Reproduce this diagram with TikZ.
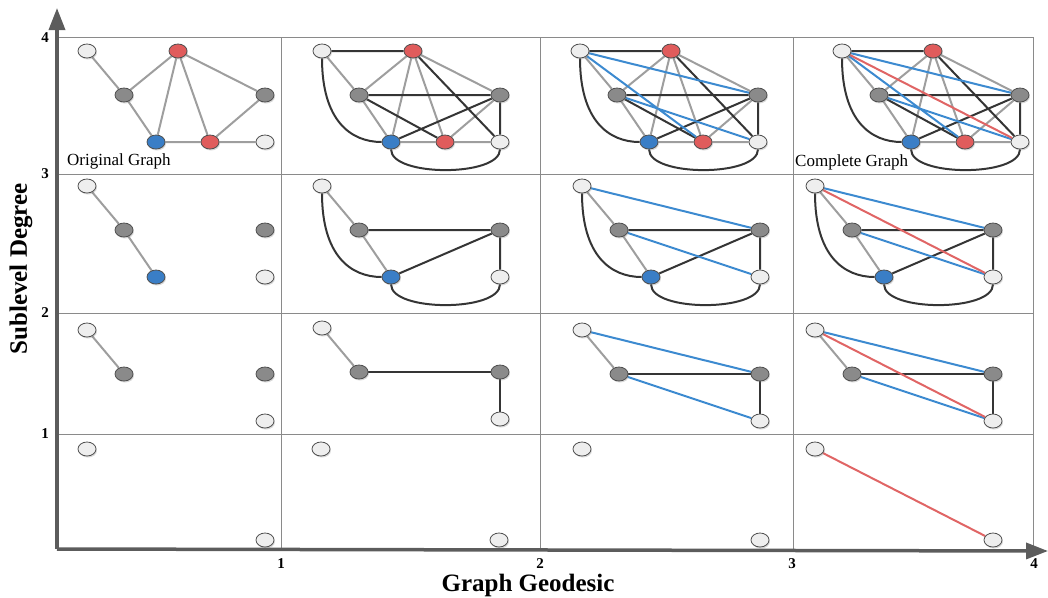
\documentclass[tikz,border=0pt]{standalone}
\usepackage{fontspec}
\setmainfont{Liberation Serif}
\usetikzlibrary{arrows.meta,shapes.geometric,shadows,backgrounds}
\definecolor{nwhite}{HTML}{EEEEEE}
\definecolor{ngray}{HTML}{8A8A8A}
\definecolor{nred}{HTML}{E05C5C}
\definecolor{nblue}{HTML}{3A7EC6}
\definecolor{nborder}{HTML}{505050}
\definecolor{lgray}{HTML}{9E9E9E}
\definecolor{dgray}{HTML}{353535}
\definecolor{eblue}{HTML}{3C8AD0}
\definecolor{ered}{HTML}{E06565}
\definecolor{gridc}{HTML}{8A8A8A}
\definecolor{axisc}{HTML}{5C5C5C}
\tikzset{
  nd/.style={ellipse, draw=nborder, line width=0.8pt, minimum width=18pt, minimum height=14pt, inner sep=0pt,
    drop shadow={opacity=0.3, shadow xshift=1pt, shadow yshift=-1.5pt}},
  wn/.style={nd, fill=nwhite},
  gn/.style={nd, fill=ngray},
  rn/.style={nd, fill=nred},
  bn/.style={nd, fill=nblue},
  le/.style={draw=lgray, line width=2pt},
  de/.style={draw=dgray, line width=2pt},
  be/.style={draw=eblue, line width=2pt},
  ree/.style={draw=ered, line width=2pt},
  gridline/.style={draw=gridc, line width=1pt},
  axisline/.style={draw=axisc, line width=3.5pt, -{Triangle[length=22pt,width=16pt]}},
  ticklab/.style={font=\fontsize{15}{15}\selectfont\bfseries, inner sep=0pt},
  axlab/.style={font=\fontsize{25}{25}\selectfont\bfseries, inner sep=0pt},
  captext/.style={font=\fontsize{17}{17}\selectfont, inner sep=0pt, anchor=base west}
}
% node sets
\newcommand\fullset[1]{%
  \node[wn] (#1a) at (0,0) {};
  \node[rn] (#1b) at (91,0) {};
  \node[gn] (#1c) at (37,44) {};
  \node[gn] (#1d) at (178,44) {};
  \node[bn] (#1e) at (69,91) {};
  \node[rn] (#1f) at (123,91) {};
  \node[wn] (#1g) at (178,91) {};}
\newcommand\fiveset[1]{%
  \node[wn] (#1a) at (0,0) {};
  \node[gn] (#1c) at (37,44) {};
  \node[gn] (#1d) at (178,44) {};
  \node[bn] (#1e) at (69,91) {};
  \node[wn] (#1g) at (178,91) {};}
\newcommand\fourset[1]{%
  \node[wn] (#1a) at (0,0) {};
  \node[gn] (#1c) at (37,44) {};
  \node[gn] (#1d) at (178,44) {};
  \node[wn] (#1g) at (178,91) {};}
\newcommand\twoset[1]{%
  \node[wn] (#1a) at (0,0) {};
  \node[wn] (#1g) at (178,91) {};}
% edge sets
\newcommand\origE[1]{\draw[le] (#1a)--(#1c) (#1c)--(#1b) (#1c)--(#1e) (#1b)--(#1e) (#1b)--(#1f) (#1b)--(#1d) (#1d)--(#1f) (#1e)--(#1f) (#1f)--(#1g);}
\newcommand\curvesE[1]{\draw[de] (#1a) .. controls +(0,70) and +(-40,0) .. (#1e);
  \draw[de] (#1e) .. controls +(0,35) and +(0,35) .. (#1g);}
\newcommand\geoFull[1]{\draw[de] (#1a)--(#1b) (#1c)--(#1d) (#1c)--(#1f) (#1e)--(#1d) (#1b)--(#1g) (#1d)--(#1g); \curvesE{#1}}
\newcommand\blueE[1]{\draw[be] (#1a)--(#1d) (#1c)--(#1g);}
\newcommand\blueFull[1]{\draw[be] (#1a)--(#1d) (#1a)--(#1f) (#1c)--(#1g);}
\newcommand\redE[1]{\draw[ree] (#1a)--(#1g);}
\newcommand\fiveLight[1]{\draw[le] (#1a)--(#1c) (#1c)--(#1e);}
\newcommand\fiveDark[1]{\draw[de] (#1c)--(#1d) (#1e)--(#1d) (#1d)--(#1g); \curvesE{#1}}
\newcommand\fourDark[1]{\draw[de] (#1c)--(#1d) (#1d)--(#1g);}
\begin{document}
\begin{tikzpicture}[x=1pt,y=-1pt]
\useasboundingbox (0,0) rectangle (1048,597);
% ---- nodes ----
\begin{scope}[shift={(87,51)}]\fullset{A}\end{scope}
\begin{scope}[shift={(322,51)}]\fullset{B}\end{scope}
\begin{scope}[shift={(580,51)}]\fullset{C}\end{scope}
\begin{scope}[shift={(842,51)}]\fullset{D}\end{scope}
\begin{scope}[shift={(87,186)}]\fiveset{E}\end{scope}
\begin{scope}[shift={(322,186)}]\fiveset{F}\end{scope}
\begin{scope}[shift={(582,186)}]\fiveset{G}\end{scope}
\begin{scope}[shift={(815,186)}]\fiveset{H}\end{scope}
\begin{scope}[shift={(87,330)}]\fourset{I}\end{scope}
\begin{scope}[shift={(322,328)}]\fourset{J}\end{scope}
\begin{scope}[shift={(582,330)}]\fourset{K}\end{scope}
\begin{scope}[shift={(815,330)}]\fourset{L}\end{scope}
\begin{scope}[shift={(87,449)}]\twoset{M}\end{scope}
\begin{scope}[shift={(321,449)}]\twoset{N}\end{scope}
\begin{scope}[shift={(582,449)}]\twoset{P}\end{scope}
\begin{scope}[shift={(815,449)}]\twoset{Q}\end{scope}
% ---- background: grid and edges ----
\begin{pgfonlayer}{background}
\coordinate (O) at (57,549);
\coordinate (ytop) at (57,8);
\coordinate (xend) at (1048,551);
\draw[gridline] (57,37) -- (1033,37);
\draw[gridline] (57,174) -- (1033,174);
\draw[gridline] (57,313) -- (1033,313);
\draw[gridline] (57,434) -- (1033,434);
\draw[gridline] (281,37) -- (281,549);
\draw[gridline] (540,37) -- (540,549);
\draw[gridline] (793,37) -- (793,549);
\draw[gridline] (1033,37) -- (1033,549);
% row 1
\origE{A}
\origE{B}\geoFull{B}
\origE{C}\geoFull{C}\blueFull{C}
\origE{D}\geoFull{D}\blueFull{D}\redE{D}
% row 2
\fiveLight{E}
\fiveLight{F}\fiveDark{F}
\fiveLight{G}\fiveDark{G}\blueE{G}
\fiveLight{H}\fiveDark{H}\blueE{H}\redE{H}
% row 3
\draw[le] (Ia)--(Ic);
\draw[le] (Ja)--(Jc); \fourDark{J}
\draw[le] (Ka)--(Kc); \fourDark{K}\blueE{K}
\draw[le] (La)--(Lc); \fourDark{L}\blueE{L}\redE{L}
% row 4
\redE{Q}
\end{pgfonlayer}
% ---- axes ----
\draw[axisline] (O) -- (ytop);
\draw[axisline] (O) -- (xend);
% ---- labels ----
\node[ticklab, anchor=east] (t4) at (49,38) {4};
\node[ticklab, anchor=east] (t3) at (49,174) {3};
\node[ticklab, anchor=east] (t2) at (49,313) {2};
\node[ticklab, anchor=east] (t1) at (49,434) {1};
\node[ticklab] (x1) at (281,564) {1};
\node[ticklab] (x2) at (540,564) {2};
\node[ticklab] (x3) at (792,564) {3};
\node[ticklab] (x4) at (1034,564) {4};
\node[axlab] (xl) at (528,585) {Graph Geodesic};
\node[axlab, rotate=90] (yl) at (21,269) {Sublevel Degree};
\node[captext] (og) at (67,165) {Original Graph};
\node[captext] (cg) at (795,166) {Complete Graph};
\end{tikzpicture}
\end{document}
